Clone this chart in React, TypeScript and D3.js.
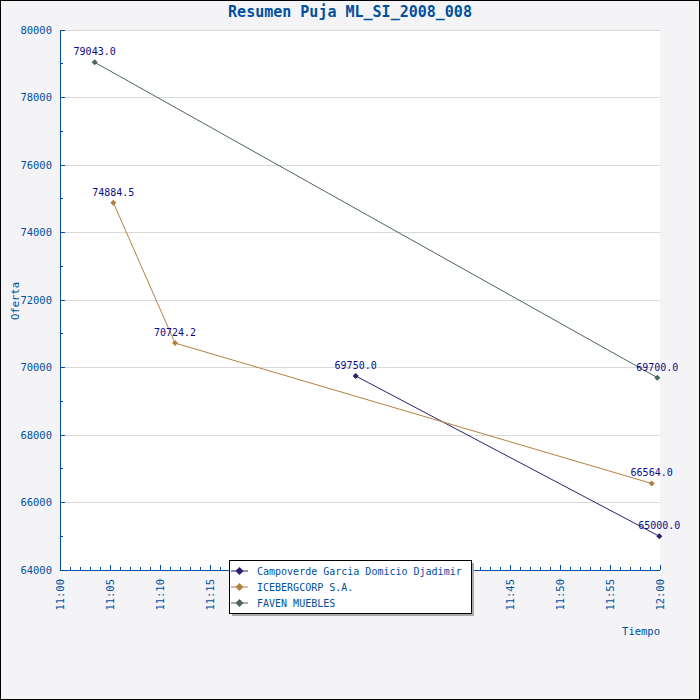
import React from 'react';
import * as d3 from 'd3';

const title = 'Resumen Puja ML_SI_2008_008';
const xLabel = 'Tiempo';
const yLabel = 'Oferta';

const seriesNames = ['Campoverde Garcia Domicio Djadimir', 'ICEBERGCORP S.A.', 'FAVEN MUEBLES'];
const seriesColors = ['#2a1f6f', '#b5803f', '#4b6659'];

const campoverdeTimes = ['11:29:34', '11:59:56'];
const campoverdeValues = [69750.0, 65000.0];
const icebergTimes = ['11:05:20', '11:11:30', '11:59:10'];
const icebergValues = [74884.5, 70724.2, 66564.0];
const favenTimes = ['11:03:28', '11:59:44'];
const favenValues = [79043.0, 69700.0];

const timeStart = '11:00:00';
const timeEnd = '12:00:00';
const yMin = 64000;
const yMax = 80000;

interface IPoint {
  t: Date;
  v: number;
}

const toDate = (s: string) => {
  const [h, m, sec] = s.split(':').map(Number);
  return new Date(2008, 0, 1, h, m, sec);
};

const series: IPoint[][] = [
  campoverdeTimes.map((t, i) => ({ t: toDate(t), v: campoverdeValues[i] })),
  icebergTimes.map((t, i) => ({ t: toDate(t), v: icebergValues[i] })),
  favenTimes.map((t, i) => ({ t: toDate(t), v: favenValues[i] })),
];

const width = 700;
const height = 700;
const margin = { top: 30, right: 40, bottom: 130, left: 60 };
const font = '"DejaVu Sans Mono", monospace';
const axisColor = '#00509e';
const labelColor = '#0a0a8a';

// squat diamond like the original markers
const diamondPath = (r: number) => `M0,${-r}L${r},0L0,${r}L${-r},0Z`;

export default function App() {
  const x = d3
    .scaleTime()
    .domain([toDate(timeStart), toDate(timeEnd)])
    .range([margin.left, width - margin.right]);
  const y = d3
    .scaleLinear()
    .domain([yMin, yMax])
    .range([height - margin.bottom, margin.top]);

  const line = d3
    .line<IPoint>()
    .x((d) => x(d.t))
    .y((d) => y(d.v));
  const fmtTime = d3.timeFormat('%H:%M');
  const fmtVal = d3.format('.1f');

  const xMajor = x.ticks(d3.timeMinute.every(5)!);
  const xMinor = x.ticks(d3.timeMinute.every(1)!);
  const yMajor = d3.range(yMin, yMax + 1, 2000);
  const yMinor = d3.range(yMin, yMax + 1, 1000);
  const x0 = margin.left;
  const x1 = width - margin.right;
  const y0 = height - margin.bottom;
  const y1 = margin.top;

  const legend = { x: 229, y: 560, w: 242, h: 53 };

  return (
    <div style={{ position: 'absolute', left: 0, top: 0 }}>
      <svg width={width} height={height} viewBox={`0 0 ${width} ${height}`} style={{ display: 'block' }}>
        <rect x={0.5} y={0.5} width={width - 1} height={height - 1} fill='#f4f4f6' stroke='#000' />
        <rect x={x0} y={y1} width={x1 - x0} height={y0 - y1} fill='#fff' />

        <g shapeRendering='crispEdges'>
          {yMajor.map((v) => (
            <line key={'g' + v} x1={x0} x2={x1} y1={y(v)} y2={y(v)} stroke='#d9d9d9' />
          ))}
        </g>

        {series.map((s, i) => (
          <g key={seriesNames[i]}>
            <path d={line(s) || ''} fill='none' stroke={seriesColors[i]} strokeWidth={1} />
            {s.map((d, j) => (
              <path key={j} d={diamondPath(3)} transform={`translate(${x(d.t)},${y(d.v)})`} fill={seriesColors[i]} />
            ))}
          </g>
        ))}

        <g shapeRendering='crispEdges' stroke={axisColor}>
          <line x1={x0} x2={x0} y1={y1} y2={y0} />
          <line x1={x0} x2={x1} y1={y0} y2={y0} />
          {yMinor.map((v) => (
            <line key={'ym' + v} x1={x0} x2={x0 + (v % 2000 === 0 ? 5 : 3)} y1={y(v)} y2={y(v)} />
          ))}
          {xMinor.map((t) => (
            <line key={'xm' + t.getTime()} x1={x(t)} x2={x(t)} y1={y0} y2={y0 - (t.getMinutes() % 5 === 0 ? 5 : 3)} />
          ))}
        </g>

        <g fontFamily={font} fontSize={10.5} fill={axisColor}>
          {yMajor.map((v) => (
            <text key={'yl' + v} x={x0 - 8} y={y(v)} dy='0.35em' textAnchor='end'>
              {v}
            </text>
          ))}
          {xMajor.map((t) => (
            <text key={'xl' + t.getTime()} transform={`translate(${x(t) + 4},${y0 + 9}) rotate(-90)`} textAnchor='end'>
              {fmtTime(t)}
            </text>
          ))}
          <text x={x1} y={y0 + 65} textAnchor='end'>
            {xLabel}
          </text>
          <text transform={`translate(19,${(y0 + y1) / 2 + 1}) rotate(-90)`} textAnchor='middle'>
            {yLabel}
          </text>
        </g>

        <g fontFamily={font} fontSize={10} fill={labelColor} textAnchor='middle'>
          {series.map((s, i) =>
            s.map((d, j) => (
              <text key={i + '-' + j} x={x(d.t)} y={y(d.v) - 7}>
                {fmtVal(d.v)}
              </text>
            ))
          )}
        </g>

        <text x={width / 2} y={17} textAnchor='middle' fontFamily={font} fontSize={15} fontWeight='bold' fill={axisColor}>
          {title}
        </text>

        <g fontFamily={font} fontSize={10}>
          <rect x={legend.x + 3} y={legend.y + 3} width={legend.w} height={legend.h} fill='#aaaaaa' />
          <rect x={legend.x + 0.5} y={legend.y + 0.5} width={legend.w} height={legend.h} fill='#fff' stroke='#000' shapeRendering='crispEdges' />
          {seriesNames.map((name, i) => {
            const cy = legend.y + 11 + i * 16;
            return (
              <g key={name}>
                <line x1={legend.x + 2} x2={legend.x + 19} y1={cy} y2={cy} stroke={seriesColors[i]} />
                <path d={diamondPath(4)} transform={`translate(${legend.x + 10.5},${cy})`} fill={seriesColors[i]} />
                <text x={legend.x + 28} y={cy} dy='0.35em' fill={axisColor}>
                  {name}
                </text>
              </g>
            );
          })}
        </g>
      </svg>
    </div>
  );
}
